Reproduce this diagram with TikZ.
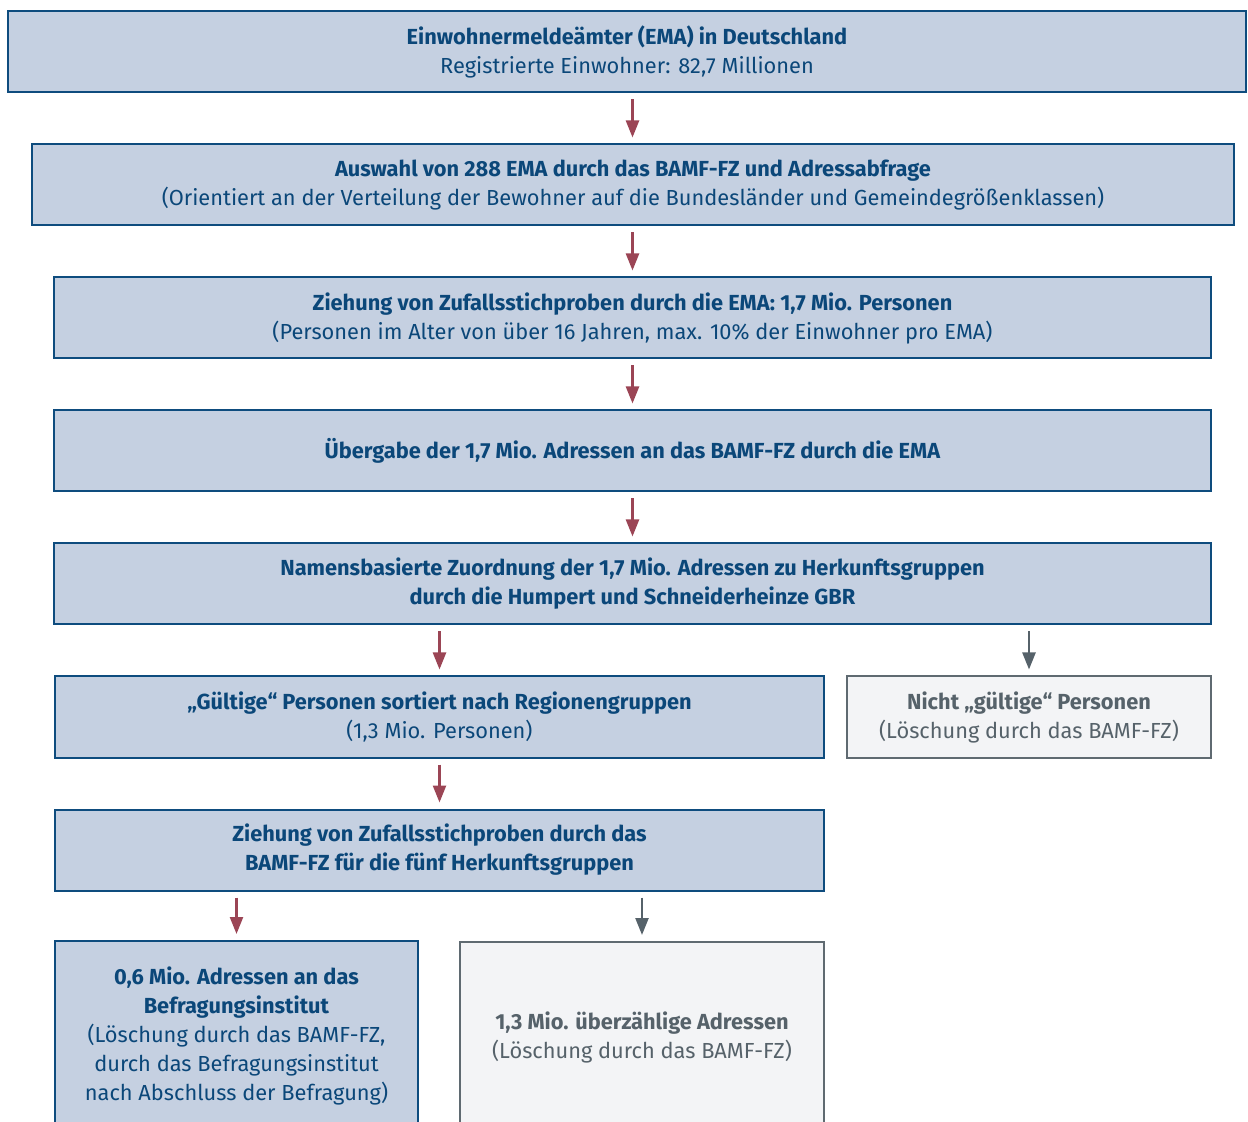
\documentclass[tikz,border=0pt]{standalone}
\usepackage{fontspec}
\setmainfont{Fira Sans}
\usepackage{tikz}
\usetikzlibrary{arrows.meta}

\definecolor{boxblue}{HTML}{C5D0E1}
\definecolor{lineblue}{HTML}{0E4C7E}
\definecolor{textblue}{HTML}{0B4779}
\definecolor{boxgrey}{HTML}{F3F4F6}
\definecolor{linegrey}{HTML}{5F6A71}
\definecolor{textgrey}{HTML}{56626A}
\definecolor{arrowred}{HTML}{9B4555}

\tikzset{
  stepbox/.style={draw=lineblue, fill=boxblue, text=textblue, line width=1pt,
    minimum height=40.5pt, inner sep=0pt, font=\fontsize{10.9}{14.5}\selectfont},
  dropbox/.style={stepbox, draw=linegrey, fill=boxgrey, text=textgrey},
  redarrow/.style={draw=arrowred, line width=1.2pt, shorten <=3pt, shorten >=3pt,
    -{Triangle[length=8.5pt,width=6.5pt]}},
  greyarrow/.style={redarrow, draw=textgrey},
  redlinks/.style={every edge/.style={redarrow}},
  greylinks/.style={every edge/.style={greyarrow}}
}

\begin{document}
\begin{tikzpicture}[x=0.5pt, y=-0.5pt, every text node part/.style={align=center}]
 \useasboundingbox (0,0) rectangle (1248,1122);

 \node(register) [stepbox, minimum width=619pt] at (627,52) {\textbf{Einwohnermeldeämter (EMA) in Deutschland} \\ Registrierte Einwohner: 82,7 Millionen};
 \node(auswahl) [stepbox, minimum width=601pt] at (633,185) {\textbf{Auswahl von 288 EMA durch das BAMF-FZ und Adressabfrage} \\ (Orientiert an der Verteilung der Bewohner auf die Bundesländer und Gemeindegrößenklassen)};
 \node(ziehung) [stepbox, minimum width=578.5pt] at (632.5,318) {\textbf{Ziehung von Zufallsstichproben durch die EMA: 1,7 Mio. Personen} \\ (Personen im Alter von über 16 Jahren, max. 10\% der Einwohner pro EMA)};
 \node(uebergabe) [stepbox, minimum width=578.5pt] at (632.5,451) {\textbf{Übergabe der 1,7 Mio. Adressen an das BAMF-FZ durch die EMA}};
 \node(zuordnung) [stepbox, minimum width=578.5pt] at (632.5,584) {\textbf{Namensbasierte Zuordnung der 1,7 Mio. Adressen zu Herkunftsgruppen} \\ \textbf{durch die Humpert und Schneiderheinze GBR}};

 \node(gueltig) [stepbox, minimum width=384.5pt] at (439.5,717) {\textbf{„Gültige“ Personen sortiert nach Regionengruppen} \\ (1,3 Mio. Personen)};
 \node(ungueltig) [dropbox, minimum width=182pt] at (1029,717) {\textbf{Nicht „gültige“ Personen} \\ (Löschung durch das BAMF-FZ)};

 \node(stichprobe) [stepbox, minimum width=384.5pt] at (439.5,850) {\textbf{Ziehung von Zufallsstichproben durch das} \\ \textbf{BAMF-FZ für die fünf Herkunftsgruppen}};

 \node(institut) [stepbox, minimum width=181.5pt, minimum height=95pt] at (236.5,1036) {\textbf{0,6 Mio. Adressen an das} \\ \textbf{Befragungsinstitut} \\ (Löschung durch das BAMF-FZ, \\ durch das Befragungsinstitut \\ nach Abschluss der Befragung)};
 \node(ueberzaehlig) [dropbox, minimum width=182pt, minimum height=95pt] at (642,1037) {\textbf{1,3 Mio. überzählige Adressen} \\ (Löschung durch das BAMF-FZ)};

 \path[redlinks] (register.south -| uebergabe.north) edge (uebergabe.north |- auswahl.north)
                 (auswahl.south -| uebergabe.north) edge (ziehung.north -| uebergabe.north)
                 (ziehung) edge (uebergabe)
                 (uebergabe) edge (zuordnung)
                 (zuordnung.south -| gueltig.north) edge (gueltig.north)
                 (gueltig) edge (stichprobe)
                 (stichprobe.south -| institut.north) edge (institut.north);

 \path[greylinks] (zuordnung.south -| ungueltig.north) edge (ungueltig.north)
                  (stichprobe.south -| ueberzaehlig.north) edge (ueberzaehlig.north);

\end{tikzpicture}
\end{document}
